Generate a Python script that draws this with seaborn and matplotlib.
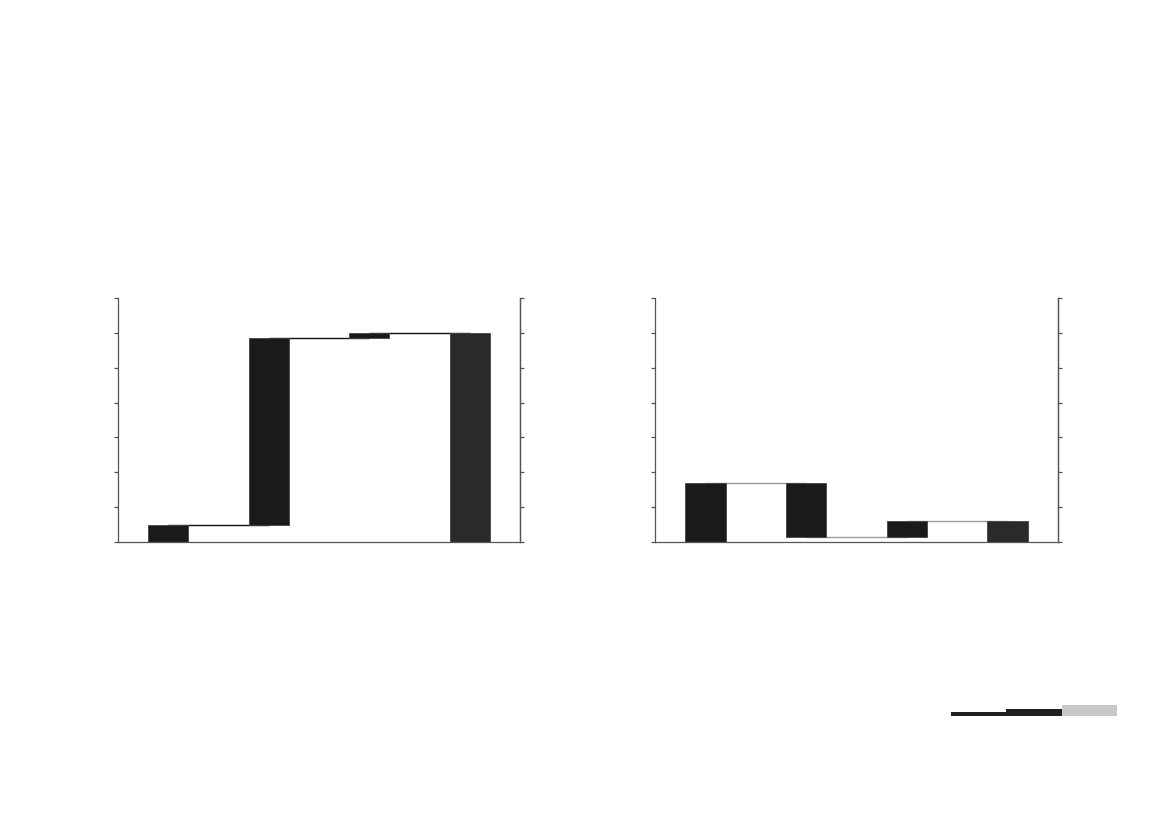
import numpy as np
import pandas as pd
import matplotlib
matplotlib.use('Agg')
import matplotlib.pyplot as plt
import seaborn as sns

# waterfall data (units = tick steps)
steps = ['A', 'B', 'C', 'Total']
left_changes = [0.5, 5.35, 0.15]
right_changes = [1.68, -1.53, 0.45]
bar_colors = ['#1a1a1a', '#1a1a1a', '#1a1a1a', '#2a2a2a']
yticks = list(range(0, 8))

# small key at the bottom right
key_names = ['k1', 'k2', 'k3']
key_heights = [3.6, 7.0, 10.3]
key_colors = ['#1f1f1f', '#1f1f1f', '#c8c8c8']

sns.set_style('white')
plt.rcParams['font.family'] = ['DejaVu Sans']

fig = plt.figure(figsize=(11.69, 8.26), dpi=100)


def waterfall(ax, changes, line_color):
    ends = np.cumsum(changes)
    starts = np.concatenate([[0], ends[:-1]])
    total = ends[-1]
    bottoms = list(np.minimum(starts, ends)) + [0]
    heights = list(np.abs(changes)) + [total]
    df = pd.DataFrame({'step': steps, 'height': heights})
    levels = list(ends) + [total]
    # connectors between bars
    for i in range(len(steps) - 1):
        ax.hlines(levels[i], i, i + 1, color=line_color, lw=1.0, zorder=1)
    sns.barplot(data=df, x='step', y='height', order=steps, color='#1a1a1a',
                bottom=bottoms, width=0.4, edgecolor='#444444',
                linewidth=0.6, ax=ax, zorder=2)
    for patch, c in zip(ax.patches, bar_colors):
        patch.set_facecolor(c)
    ax.set_xlim(-0.5, 3.5)
    ax.set_ylim(0, 7)
    ax.set_xlabel('')
    ax.set_ylabel('')
    ax.set_xticks([])
    ax.set_yticks(yticks)
    ax.set_yticklabels([])
    ax.tick_params(axis='y', direction='out', length=3, width=0.9,
                   color='#555555', left=True)
    for side in ['left', 'right', 'bottom']:
        ax.spines[side].set_visible(True)
        ax.spines[side].set_color('#555555')
        ax.spines[side].set_linewidth(0.9)
    ax.spines['top'].set_visible(False)
    twin = ax.twinx()
    twin.set_ylim(0, 7)
    twin.set_yticks(yticks)
    twin.set_yticklabels([])
    twin.tick_params(axis='y', direction='out', length=3, width=0.9,
                     color='#555555', right=True)
    for side in ['top', 'left', 'bottom']:
        twin.spines[side].set_visible(False)
    twin.spines['right'].set_color('#555555')
    twin.spines['right'].set_linewidth(0.9)


ax1 = fig.add_axes([0.1009, 0.3438, 0.3439, 0.2954])
waterfall(ax1, left_changes, '#111111')

ax2 = fig.add_axes([0.5603, 0.3438, 0.3447, 0.2954])
waterfall(ax2, right_changes, '#999999')

# key
axk = fig.add_axes([0.8135, 0.1331, 0.1420, 0.0130])
kdf = pd.DataFrame({'name': key_names, 'h': key_heights})
sns.barplot(data=kdf, x='name', y='h', hue='name', palette=key_colors,
            legend=False, width=1.0, linewidth=0, ax=axk)
axk.set_xlim(-0.5, 2.5)
axk.set_ylim(0, 10.3)
axk.axis('off')

fig.savefig('out.png', dpi=100, facecolor='white')
